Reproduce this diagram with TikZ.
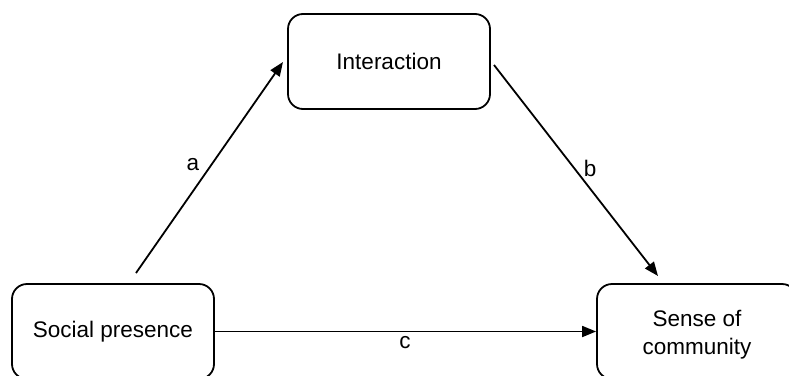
\documentclass[tikz,border=0pt]{standalone}
\usepackage{fontspec}
\setmainfont{Liberation Sans}
\usetikzlibrary{arrows.meta}
\begin{document}
\begin{tikzpicture}[x=1pt,y=-1pt,
  box/.style={draw, line width=1.8pt, rounded corners=15pt, minimum width=202pt, minimum height=95pt, inner sep=0pt, align=center, font=\fontsize{22.5}{28}\selectfont},
  conn/.style={line width=1.8pt, -{Triangle[length=14pt,width=11pt]}},
  lbl/.style={font=\fontsize{22.5}{28}\selectfont, inner sep=0pt}]
\useasboundingbox (0,0) rectangle (789,375);
\clip (0,0) rectangle (789,375);
\node[box] (int) at (389,61.5) {Interaction};
\node[box] (sp) at (113,331.5) {Social presence};
\node[box, minimum width=200pt] (soc) at (697,331.5) {\raisebox{-3.5pt}[\height][\depth]{\begin{tabular}{@{}c@{}}Sense of\\community\end{tabular}}};
\coordinate (a1) at (136,273);
\coordinate (a2) at (283,62);
\coordinate (b1) at (494,65);
\coordinate (b2) at (658,276);
\draw[conn] (a1) -- (a2);
\draw[conn] (b1) -- (b2);
\draw[conn] (sp.east) -- (soc.west);
\node[lbl] (la) at (193,165) {a};
\node[lbl] (lb) at (590,168) {b};
\node[lbl] (lc) at (405,343) {c};
\end{tikzpicture}
\end{document}
